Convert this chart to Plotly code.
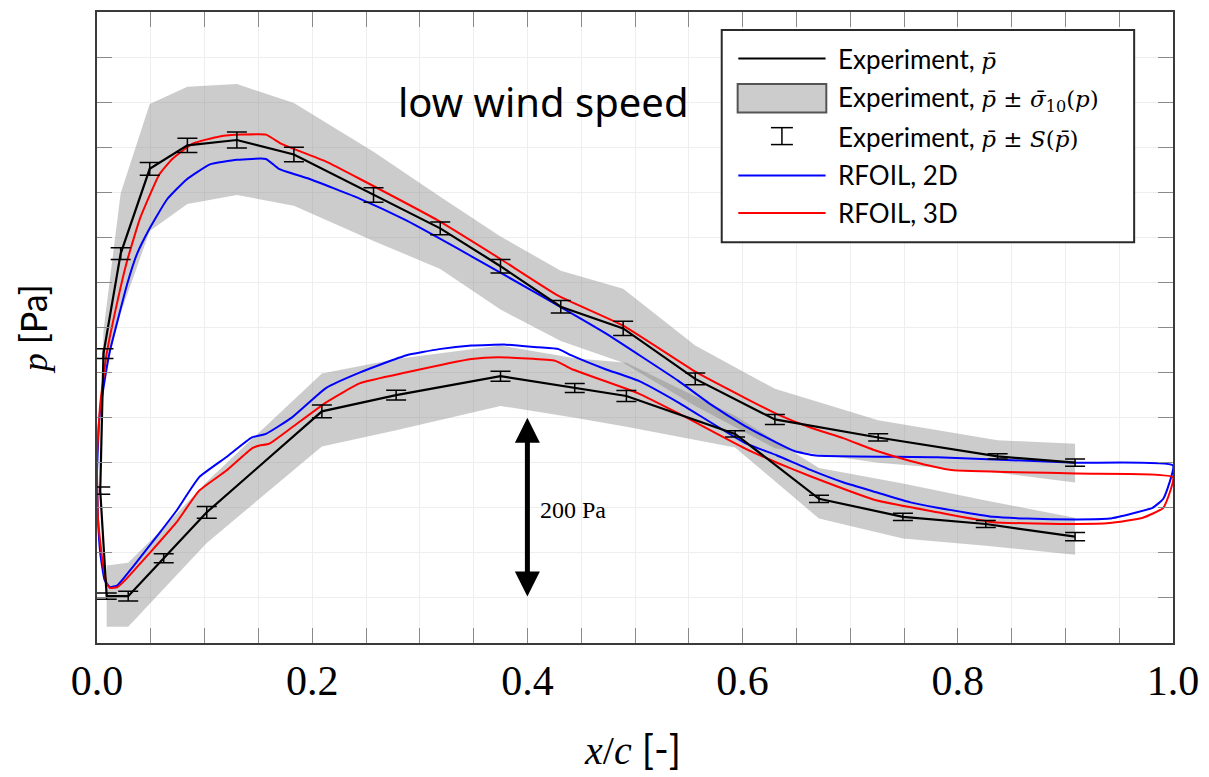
import plotly.graph_objects as go

# ---------------- data (x/c [-], p [Pa] relative to bottom of axis) ----------------
exp_upper_x = [0.003, 0.006, 0.022, 0.049, 0.084, 0.130, 0.183, 0.257, 0.319, 0.375, 0.431, 0.489, 0.556, 0.630, 0.726, 0.837, 0.909]
exp_upper_p = [169, 321, 432, 526, 552, 558, 542, 497, 460, 418, 373, 349, 293, 248, 228, 207, 200]
exp_upper_s = [4, 5.5, 6.5, 7, 8, 9, 8, 8, 7, 7.5, 7, 8, 6.5, 5.5, 4, 3, 4]
band_upper_hi = [183, 346, 499, 598, 617, 620, 599, 545, 495, 451, 413, 393, 330, 282, 247, 225, 221]
band_upper_lo = [158, 293, 366, 457, 487, 497, 485, 446, 415, 370, 335, 311, 263, 216, 200, 189, 178]

exp_lower_x = [0.009, 0.029, 0.062, 0.102, 0.209, 0.278, 0.375, 0.444, 0.492, 0.593, 0.671, 0.749, 0.826, 0.909]
exp_lower_p = [52, 52, 94, 145, 257, 275, 296, 283, 274, 232, 160, 140, 132, 118]
exp_lower_s = [3.5, 5.5, 5, 6.5, 7, 5.5, 5.5, 5, 6, 3.5, 4, 4, 4, 4.5]
band_lower_hi = [86, 89, 128, 179, 299, 315, 330, 316, 311, 252, 194, 177, 158, 139]
band_lower_lo = [18, 18, 60, 111, 218, 236, 263, 250, 240, 217, 138, 116, 108, 98]

rf2d_upper_x = [0.000, 0.002, 0.006, 0.012, 0.019, 0.028, 0.037, 0.049, 0.065, 0.083, 0.105, 0.130, 0.157, 0.169, 0.197,
                0.244, 0.287, 0.348, 0.410, 0.472, 0.540, 0.570, 0.602, 0.632, 0.648, 0.668, 0.781, 0.910, 1.000]
rf2d_upper_p = [189, 247, 283, 324, 357, 398, 431, 460, 492, 514, 531, 536, 537, 526, 515,
                493, 469, 429, 387, 344, 291, 265, 241, 222, 213, 208, 206, 200, 197]
rf2d_lower_x = [0.000, 0.001, 0.003, 0.007, 0.012, 0.019, 0.033, 0.058, 0.074, 0.095, 0.120, 0.144, 0.157, 0.181, 0.213,
                0.244, 0.287, 0.318, 0.348, 0.380, 0.410, 0.429, 0.441, 0.472, 0.503, 0.540, 0.602, 0.632, 0.663, 0.694,
                0.725, 0.756, 0.781, 0.833, 0.864, 0.910, 0.941, 0.963, 0.981, 0.991, 1.000]
rf2d_lower_p = [180, 136, 100, 70, 62, 64, 84, 122, 147, 184, 206, 228, 232, 250, 283,
                300, 319, 326, 330, 331, 328, 326, 319, 304, 291, 267, 222, 208, 192, 178,
                167, 156, 150, 140, 138, 137, 138, 144, 150, 160, 197]

rf3d_upper_x = [0.000, 0.003, 0.009, 0.019, 0.028, 0.040, 0.058, 0.070, 0.089, 0.114, 0.135, 0.157, 0.171, 0.181, 0.213,
                0.244, 0.318, 0.375, 0.429, 0.489, 0.556, 0.602, 0.632, 0.663, 0.694, 0.725, 0.756, 0.794, 0.910, 1.000]
rf3d_upper_p = [208, 265, 321, 379, 424, 471, 520, 537, 554, 562, 564, 564, 554, 549, 534,
                515, 468, 426, 385, 352, 301, 272, 254, 239, 227, 213, 202, 192, 188, 184]
rf3d_lower_x = [0.000, 0.001, 0.005, 0.009, 0.012, 0.019, 0.028, 0.043, 0.058, 0.074, 0.095, 0.120, 0.144, 0.151, 0.160,
                0.181, 0.213, 0.244, 0.287, 0.348, 0.373, 0.426, 0.441, 0.503, 0.540, 0.602, 0.632, 0.663, 0.725, 0.781,
                0.833, 0.910, 0.941, 0.972, 0.991, 1.000]
rf3d_lower_p = [191, 136, 92, 66, 61, 62, 72, 92, 112, 134, 169, 191, 216, 219, 221,
                239, 267, 288, 300, 315, 317, 313, 304, 277, 255, 216, 200, 185, 158, 145,
                134, 132, 133, 139, 150, 184]

x_tick_vals = [0.0, 0.2, 0.4, 0.6, 0.8, 1.0]
x_tick_text = ["0.0", "0.2", "0.4", "0.6", "0.8", "1.0"]
arrow_x = 0.4
arrow_p_low, arrow_p_high = 50, 250

MATH = "font-family:DejaVu Serif;font-size:23px"
legend_labels = [
    f"Experiment, <span style='{MATH}'><i>p\u0304</i></span>",
    f"Experiment, <span style='{MATH}'><i>p\u0304</i> \u00b1 <i>\u03c3\u0304</i><sub>10</sub>(<i>p</i>)</span>",
    f"Experiment, <span style='{MATH}'><i>p\u0304</i> \u00b1 <i>S</i>(<i>p\u0304</i>)</span>",
    "RFOIL, 2D",
    "RFOIL, 3D",
]

# ---------------- figure ----------------
BAND = "rgba(128,128,128,0.40)"
fig = go.Figure()

fig.add_trace(go.Scatter(x=exp_upper_x + exp_upper_x[::-1], y=band_upper_hi + band_upper_lo[::-1],
                         fill="toself", fillcolor=BAND, line=dict(width=0), mode="lines",
                         hoverinfo="skip", showlegend=False))
fig.add_trace(go.Scatter(x=exp_lower_x + exp_lower_x[::-1], y=band_lower_hi + band_lower_lo[::-1],
                         fill="toself", fillcolor=BAND, line=dict(width=0), mode="lines",
                         hoverinfo="skip", showlegend=False))

fig.add_trace(go.Scatter(x=rf2d_upper_x[::-1] + rf2d_lower_x, y=rf2d_upper_p[::-1] + rf2d_lower_p,
                         mode="lines", line=dict(color="#0000ff", width=2, shape="spline", smoothing=0.4),
                         showlegend=False))
fig.add_trace(go.Scatter(x=rf3d_upper_x[::-1] + rf3d_lower_x, y=rf3d_upper_p[::-1] + rf3d_lower_p,
                         mode="lines", line=dict(color="#ff0000", width=2, shape="spline", smoothing=0.4),
                         showlegend=False))

fig.add_trace(go.Scatter(x=exp_upper_x[::-1] + exp_lower_x, y=exp_upper_p[::-1] + exp_lower_p,
                         mode="lines", line=dict(color="black", width=2.2),
                         error_y=dict(type="data", array=exp_upper_s[::-1] + exp_lower_s,
                                      color="black", thickness=1.5, width=10),
                         showlegend=False))

axis_common = dict(showline=True, linecolor="#3a3a3a", linewidth=2, mirror="ticks",
                   ticks="inside", ticklen=15, tickcolor="#8a8a8a", tickwidth=1.2,
                   showgrid=True, gridcolor="#eeeeee", gridwidth=1, zeroline=False)

fig.update_xaxes(range=[0, 1], tickvals=x_tick_vals, ticktext=x_tick_text,
                 tickfont=dict(family="Liberation Serif", size=42, color="black"),
                 minor=dict(dtick=0.05, ticks="inside", ticklen=15, tickcolor="#8a8a8a",
                            showgrid=True, gridcolor="#eeeeee"),
                 ticklabelstandoff=0, **axis_common)
fig.update_yaxes(range=[0, 700], dtick=50, showticklabels=False, **axis_common)

ann = []
# axis titles
ann.append(dict(xref="paper", yref="paper", x=0.498, y=-0.168, showarrow=False,
                text="<i>x</i>/<i>c</i> <span style='font-family:Lato'>[-]</span>",
                font=dict(family="Liberation Serif", size=40, color="black"),
                xanchor="center", yanchor="middle"))
ann.append(dict(xref="paper", yref="paper", x=-0.060, y=0.498, showarrow=False, textangle=-90,
                text="<i>p</i> <span style='font-family:Lato'>[Pa]</span>",
                font=dict(family="Liberation Serif", size=36, color="black"),
                xanchor="center", yanchor="middle"))
# caption
ann.append(dict(xref="paper", yref="paper", x=0.415, y=0.8578, showarrow=False,
                text="low wind speed", font=dict(family="Noto Sans", size=40, color="black"),
                xanchor="center", yanchor="middle"))
# 200 Pa arrow
ann.append(dict(x=arrow_x, y=arrow_p_high, ax=arrow_x, ay=arrow_p_low, xref="x", yref="y",
                axref="x", ayref="y", text="", showarrow=True, arrowside="end+start",
                arrowhead=2, arrowsize=1.0, startarrowhead=2, startarrowsize=1.0,
                arrowwidth=5, arrowcolor="black", standoff=0, startstandoff=0))
ann.append(dict(x=0.410, y=147, xref="x", yref="y", showarrow=False, text="200 Pa",
                font=dict(family="Liberation Serif", size=24, color="black"),
                xanchor="left", yanchor="middle"))

# ---- legend (drawn manually to reproduce the box/errorbar symbols) ----
L = dict(x0=0.5806, x1=0.9639, y0=0.6351, y1=0.9716)
row_y = [0.9262, 0.8630, 0.8025, 0.7409, 0.6814]
sx0, sx1, tx = 0.5960, 0.6771, 0.6864
shapes = [dict(type="rect", xref="paper", yref="paper", x0=L["x0"], x1=L["x1"], y0=L["y0"], y1=L["y1"],
               line=dict(color="#2a2a2a", width=2), fillcolor="white", layer="above")]
shapes.append(dict(type="line", xref="paper", yref="paper", x0=sx0, x1=sx1, y0=row_y[0], y1=row_y[0],
                   line=dict(color="black", width=2), layer="above"))
shapes.append(dict(type="rect", xref="paper", yref="paper", x0=0.5954, x1=0.6778, y0=0.8409, y1=0.8858,
                   line=dict(color="#555555", width=2), fillcolor="#cccccc", layer="above"))
cx = (sx0 + sx1) / 2
for (xa, ya, xb, yb) in [(cx, 0.7899, cx, 0.8167), (cx - 0.0102, 0.8167, cx + 0.0102, 0.8167),
                         (cx - 0.0102, 0.7899, cx + 0.0102, 0.7899)]:
    shapes.append(dict(type="line", xref="paper", yref="paper", x0=xa, x1=xb, y0=ya, y1=yb,
                       line=dict(color="black", width=1.5), layer="above"))
shapes.append(dict(type="line", xref="paper", yref="paper", x0=sx0, x1=sx1, y0=row_y[3], y1=row_y[3],
                   line=dict(color="#0000ff", width=2), layer="above"))
shapes.append(dict(type="line", xref="paper", yref="paper", x0=sx0, x1=sx1, y0=row_y[4], y1=row_y[4],
                   line=dict(color="#ff0000", width=2), layer="above"))
for lab, yy in zip(legend_labels, row_y):
    ann.append(dict(xref="paper", yref="paper", x=tx, y=yy, showarrow=False, text=lab,
                    font=dict(family="Lato", size=26, color="black"),
                    xanchor="left", yanchor="middle"))

fig.update_layout(width=1209, height=777, margin=dict(l=97, r=32, t=10, b=134),
                  paper_bgcolor="white", plot_bgcolor="white",
                  annotations=ann, shapes=shapes, showlegend=False)

fig.write_html("out.html")
